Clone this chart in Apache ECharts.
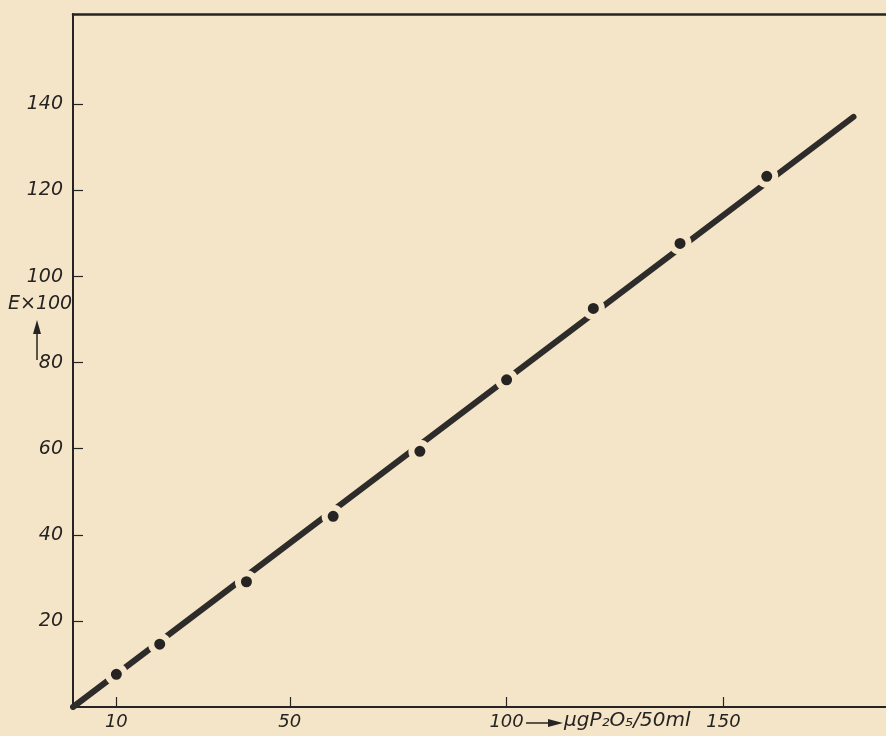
<!DOCTYPE html>
<html>
<head>
<meta charset="utf-8">
<script src="https://cdn.jsdelivr.net/npm/echarts@6/dist/echarts.min.js"></script>
<style>
html,body{margin:0;padding:0;background:#f5e5c8;}
#c{width:886px;height:736px;}
</style>
</head>
<body>
<div id="c"></div>
<script>
// Data
const concentration = [10, 20, 40, 60, 80, 100, 120, 140, 160];   // µg P2O5 / 50 ml
const extinction = [7.6, 14.6, 29.1, 44.3, 59.4, 76.0, 92.6, 107.7, 123.3]; // E x 100
const lineX = [0, 180];
const lineY = [0, 137.1];
const xTicks = [10, 50, 100, 150];
const yTicks = [20, 40, 60, 80, 100, 120, 140];

const bg = '#f5e5c8';
const ink = '#262422';
const font = '"DejaVu Sans", sans-serif';

const chart = echarts.init(document.getElementById('c'), null, {renderer: 'canvas'});
chart.setOption({
  backgroundColor: bg,
  animation: false,
  grid: {left: 73, right: 0, top: 14, bottom: 29},
  xAxis: [{
    type: 'value', min: 0, max: 187.5,
    axisLine: {lineStyle: {color: ink, width: 2}},
    axisTick: {show: true, inside: true, length: 10, customValues: xTicks, lineStyle: {color: ink, width: 1.2}},
    axisLabel: {customValues: xTicks, color: ink, fontSize: 18, fontStyle: 'italic', fontFamily: font, margin: 6},
    splitLine: {show: false}
  }, {
    type: 'value', min: 0, max: 187.5, position: 'top',
    axisLine: {show: true, lineStyle: {color: ink, width: 2.5}},
    axisTick: {show: false}, axisLabel: {show: false}, splitLine: {show: false}
  }],
  yAxis: {
    type: 'value', min: 0, max: 161,
    axisLine: {show: true, lineStyle: {color: ink, width: 2}},
    axisTick: {show: true, inside: true, length: 10, customValues: yTicks, lineStyle: {color: ink, width: 1.2}},
    axisLabel: {customValues: yTicks, color: ink, fontSize: 19, fontStyle: 'italic', fontFamily: font, margin: 10},
    splitLine: {show: false}
  },
  series: [{
    type: 'line',
    data: lineX.map((x, i) => [x, lineY[i]]),
    showSymbol: false,
    lineStyle: {color: '#2e2c2a', width: 6, cap: 'round'},
    z: 2
  }, {
    type: 'scatter',
    data: concentration.map((x, i) => [x, extinction[i]]),
    symbolSize: 17,
    itemStyle: {color: ink, borderColor: bg, borderWidth: 6, opacity: 1},
    z: 3
  }],
  graphic: [
    {type: 'text', left: 8, top: 295, style: {text: 'E×100', fill: ink, fontSize: 19, fontStyle: 'italic', fontFamily: font}},
    {type: 'line', shape: {x1: 37, y1: 360, x2: 37, y2: 330}, style: {stroke: ink, lineWidth: 1.5}},
    {type: 'polygon', shape: {points: [[33, 334], [37, 320], [41, 334]]}, style: {fill: ink}},
    {type: 'line', shape: {x1: 526, y1: 723, x2: 552, y2: 723}, style: {stroke: ink, lineWidth: 1.5}},
    {type: 'polygon', shape: {points: [[548, 719], [563, 723], [548, 727]]}, style: {fill: ink}},
    {type: 'text', left: 564, top: 711, style: {text: 'μgP₂O₅/50ml', fill: ink, fontSize: 20, fontStyle: 'italic', fontFamily: font}}
  ]
});
</script>
</body>
</html>
